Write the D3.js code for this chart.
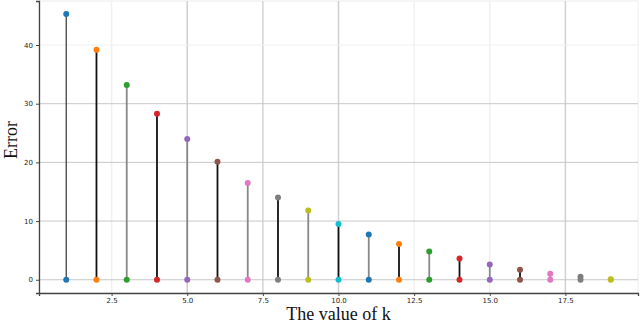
<!DOCTYPE html>
<html>
<head>
<meta charset="utf-8">
<script src="https://cdn.jsdelivr.net/npm/d3@7"></script>
<style>
  body { margin: 0; background: #fff; }
  svg { display: block; }
  .tick text { font-family: "DejaVu Sans", sans-serif; font-size: 7px; fill: #222; }
</style>
</head>
<body>
<svg id="chart" width="640" height="323"></svg>
<script>
var kValues = [1, 2, 3, 4, 5, 6, 7, 8, 9, 10, 11, 12, 13, 14, 15, 16, 17, 18, 19];
var errors = [45.3, 39.2, 33.2, 28.3, 24.0, 20.1, 16.5, 14.0, 11.8, 9.5, 7.7, 6.1, 4.8, 3.6, 2.6, 1.7, 1.0, 0.5, 0.1];
var xTicks = [2.5, 5.0, 7.5, 10.0, 12.5, 15.0, 17.5];
var yTicks = [0, 10, 20, 30, 40];
var palette = ['#1f77b4', '#ff7f0e', '#2ca02c', '#d62728', '#9467bd',
               '#8c564b', '#e377c2', '#7f7f7f', '#bcbd22', '#17becf'];

var margin = { top: 1, right: 2, bottom: 30, left: 39 };
var svg = d3.select('#chart');
var width = 640 - margin.left - margin.right;
var height = 323 - margin.top - margin.bottom;
var g = svg.append('g').attr('transform', 'translate(' + margin.left + ',' + margin.top + ')');

var x = d3.scaleLinear().domain([0.1, 19.9]).range([0, width]);
var y = d3.scaleLinear().domain([-2.26, 47.5]).range([height, 0]);

// frame (faint top/right)
g.append('rect')
  .attr('width', width).attr('height', height)
  .attr('fill', 'none').attr('stroke', '#eee');

// grid
g.selectAll('.vgrid').data(xTicks).enter().append('line')
  .attr('x1', function(d) { return x(d); }).attr('x2', function(d) { return x(d); })
  .attr('y1', 0).attr('y2', height)
  .attr('stroke', function(d, i) { return [ '#f0f0f0', '#cfcfcf', '#d4d4d4', '#d0d0d0', '#f2f2f2', '#f0f0f0', '#d0d0d0'][i]; })
  .attr('stroke-width', 1.5);
g.selectAll('.hgrid').data(yTicks).enter().append('line')
  .attr('y1', function(d) { return y(d); }).attr('y2', function(d) { return y(d); })
  .attr('x1', 0).attr('x2', width)
  .attr('stroke', function(d) { return d === 40 ? '#f0f0f0' : '#c8c8c8'; })
  .attr('stroke-width', 1);

// stems
g.selectAll('.stem').data(kValues).enter().append('line')
  .attr('x1', function(d) { return x(d); }).attr('x2', function(d) { return x(d); })
  .attr('y1', y(0))
  .attr('y2', function(d, i) { return y(errors[i]); })
  .attr('stroke', function(d, i) { return i === 0 ? '#333' : (i % 2 === 1 ? '#111' : '#888'); })
  .attr('stroke-width', function(d, i) { return i === 0 ? 1.2 : 1.8; });

// markers at value and at zero
g.selectAll('.top').data(kValues).enter().append('circle')
  .attr('cx', function(d) { return x(d); })
  .attr('cy', function(d, i) { return y(errors[i]); })
  .attr('r', 3)
  .attr('fill', function(d, i) { return palette[i % 10]; });
g.selectAll('.base').data(kValues).enter().append('circle')
  .attr('cx', function(d) { return x(d); })
  .attr('cy', y(0))
  .attr('r', 3)
  .attr('fill', function(d, i) { return palette[i % 10]; });

// axes
var xAxis = g.append('g').attr('transform', 'translate(0,' + height + ')')
  .call(d3.axisBottom(x).tickValues(xTicks).tickFormat(d3.format('.1f')).tickSize(3).tickPadding(2));
var yAxis = g.append('g')
  .call(d3.axisLeft(y).tickValues(yTicks).tickSize(3).tickPadding(3));
[xAxis, yAxis].forEach(function(a) {
  a.select('.domain').attr('stroke', '#444').attr('stroke-width', 1.3);
  a.selectAll('.tick line').attr('stroke', '#444');
});

svg.append('text')
  .attr('x', margin.left + width / 2).attr('y', 320)
  .attr('text-anchor', 'middle')
  .style('font-family', '"Liberation Serif", serif')
  .style('font-size', '18px')
  .style('fill', '#111')
  .text('The value of k');

svg.append('text')
  .attr('transform', 'translate(17,140) rotate(-90)')
  .attr('text-anchor', 'middle')
  .style('font-family', '"Liberation Serif", serif')
  .style('font-size', '18px')
  .style('fill', '#111')
  .text('Error');
</script>
</body>
</html>
